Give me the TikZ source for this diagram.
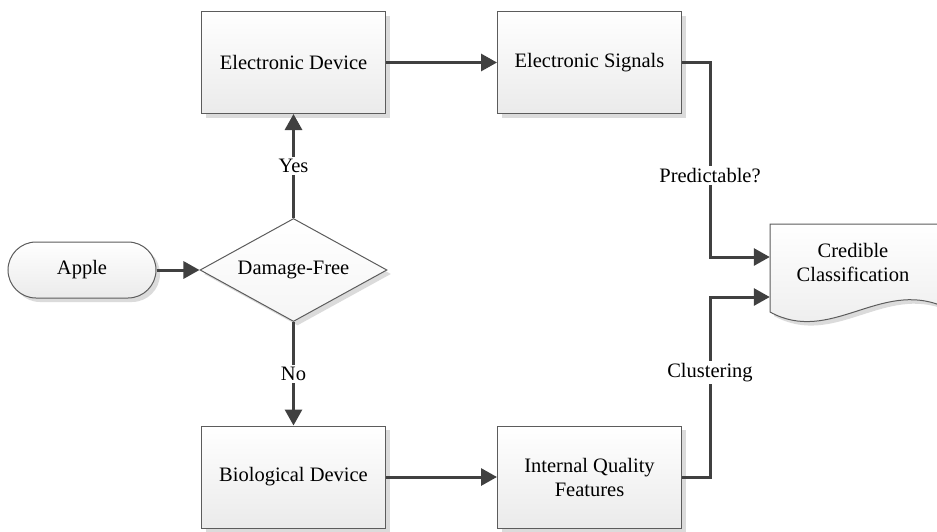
\documentclass[tikz,border=0pt]{standalone}
\usepackage{fontspec}
\setmainfont{Liberation Serif}
\usetikzlibrary{shapes.geometric,arrows.meta,shadows}
\definecolor{linegray}{HTML}{404040}
\definecolor{edgegray}{HTML}{5C5C5C}
\tikzset{
  shade/.style={draw=edgegray, line width=1pt, top color=white, bottom color=black!8,
    drop shadow={shadow xshift=4pt, shadow yshift=-4pt, fill=black!14, opacity=1}},
  box/.style={shade, rectangle, minimum width=184pt, minimum height=102pt, align=center},
  terminal/.style={shade, rectangle, rounded corners=28pt, minimum width=148pt, minimum height=56pt},
  decision/.style={shade, diamond, aspect=1.8, top color=white, bottom color=black!4, inner sep=0pt,
    minimum width=187pt, minimum height=103pt},
  docshape/.style={shade},
  flow/.style={draw=linegray, line width=3pt, -{Triangle[length=16pt,width=17pt]}},
  lbl/.style={fill=white, inner sep=2pt}
}
\begin{document}
\begin{tikzpicture}[x=1pt, y=-1pt, font=\fontsize{20.5}{24}\selectfont]
  \useasboundingbox (0,0) rectangle (937,531);
  % shapes
  \node[terminal] (apple) at (82,270) {Apple};
  \node[decision] (dmg) at (293.5,270) {Damage-Free};
  \node[box] (edev) at (293.5,62.5) {Electronic Device};
  \node[box] (esig) at (589.5,62.5) {Electronic Signals};
  \node[box] (bdev) at (293.5,477) {Biological Device};
  \node[box] (iqf) at (589.5,477) {Internal Quality\\Features};
  \path[docshape] (770,224) -- (942,224) -- (942,306)
    .. controls (880,280) and (830,345) .. (770,312) -- cycle;
  \node[minimum width=166pt, inner sep=0pt, align=center] (cc) at (853,262) {Credible\\Classification};
  % connectors
  \draw[flow] (apple) -- (dmg);
  \draw[flow] (dmg) -- node[lbl] {Yes} (edev);
  \draw[flow] (dmg) -- node[lbl] {No} (bdev);
  \draw[flow] (edev) -- (esig);
  \draw[flow] (bdev) -- (iqf);
  \draw[flow] (esig.east) -- ++(28,0) |- node[lbl, pos=0.29] {Predictable?} ([yshift=5pt]cc.west);
  \draw[flow] (iqf.east) -- ++(28,0) |- node[lbl, pos=0.29] {Clustering} ([yshift=-35pt]cc.west);
\end{tikzpicture}
\end{document}
